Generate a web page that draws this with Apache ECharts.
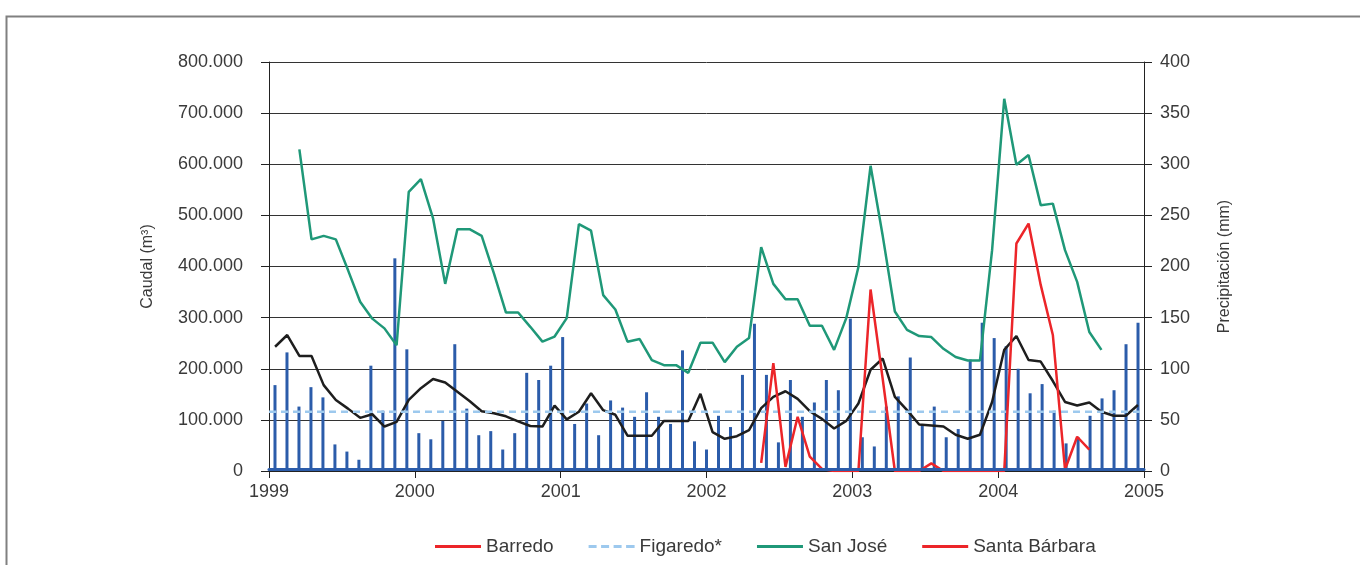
<!DOCTYPE html>
<html>
<head>
<meta charset="utf-8">
<script src="https://cdn.jsdelivr.net/npm/echarts@6/dist/echarts.min.js"></script>
<style>
  html, body { margin: 0; padding: 0; background: #fff; }
  #chart { width: 1360px; height: 565px; }
</style>
</head>
<body>
<div id="chart"></div>
<script>
// ejes
const years = [1999, 2005];
const caudalTicks = [0, 800, 100];   // miles de m3
const precipTicks = [0, 400, 50];    // mm

// precipitación mensual (mm), ene 1999 - ene 2005
const precip = [
  84, 116, 63, 82, 72, 26, 19, 11, 103, 59, 208, 119,
  37, 31, 49, 124, 61, 35, 39, 21, 37, 96, 89, 103,
  131, 46, 66, 35, 69, 62, 53, 77, 53, 46, 118, 29,
  21, 54, 43, 94, 144, 94, 28, 89, 53, 67, 89, 79,
  149, 33, 24, 63, 73, 111, 45, 63, 33, 41, 109, 145,
  130, 122, 100, 76, 85, 59, 27, 33, 54, 71, 79, 124,
  145
];

// caudales mensuales (miles de m3), ene 1999 - dic 2004
const barredo = [
  243, 266, 225, 225, 168, 139, 122, 104, 111, 87, 96, 139,
  162, 180, 173, 155, 137, 117, 113, 107, 97, 88, 87, 128,
  101, 116, 152, 119, 110, 69, 69, 69, 98, 98, 98, 151,
  76, 63, 68, 80, 123, 145, 156, 141, 117, 102, 83, 98,
  132, 198, 220, 145, 119, 91, 89, 87, 71, 63, 71, 135,
  237, 264, 217, 214, 176, 135, 128, 134, 116, 108, 108, 129
];
const sanJose = [
  null, null, 629, 453, 460, 453, 393, 331, 298, 279, 246, 546,
  571, 494, 366, 473, 473, 460, 387, 310, 310, 282, 253, 263,
  299, 483, 470, 344, 316, 253, 258, 217, 207, 207, 192, 251,
  251, 213, 243, 260, 438, 366, 336, 336, 284, 284, 237, 299,
  399, 597, 460, 312, 276, 264, 262, 239, 223, 216, 216, 432,
  728, 599, 618, 520, 523, 432, 370, 272, 237
];
const santaBarbara = [
  null, null, null, null, null, null, null, null, null, null, null, null,
  null, null, null, null, null, null, null, null, null, null, null, null,
  null, null, null, null, null, null, null, null, null, null, null, null,
  null, null, null, null, 16, 211, 8, 106, 28, 4, 0, 0,
  0, 355, 180, 0, 0, 0, 15, 0, 0, 0, 0, 0,
  0, 445, 484, 364, 266, 3, 67, 42
];
const figaredo = [116, 116];

const colRed = "#ec2529";
const colGreen = "#1f9878";
const colBlue = "#2b5caa";
const colDash = "#9dc9ee";

// iconos de la leyenda: línea continua y discontinua
const iconSolid = "path://M0,0H46V3H0Z";
const iconDash = "path://M0,0h8v3h-8z M12.5,0h8v3h-8z M25,0h8v3h-8z M37.5,0h8.5v3h-8.5z";

// meses como categorías para las barras
let months = [];
for (let i = 0; i < precip.length; i++) {
  months.push(years[0] + Math.floor(i / 12) + "-" + ((i % 12) + 1));
}
// posición (año decimal) de cada mes, a mitad de mes
function toPairs(arr) {
  return arr.map((v, i) => [years[0] + (i + 0.5) / 12, v]);
}

const font = "Liberation Sans, Arial, sans-serif";
const txt = "#3a3a3a";

let chart = echarts.init(document.getElementById("chart"));
let option = {
  backgroundColor: "#fff",
  animation: false,
  textStyle: { fontFamily: font },
  graphic: [
    {
      type: "rect",
      left: 4,
      top: 14,
      shape: { width: 1400, height: 600 },
      style: { fill: "none", stroke: "#808080", lineWidth: 2 },
      silent: true
    }
  ],
  grid: { left: 269, right: 216, top: 62, bottom: 94 },
  legend: {
    left: 435,
    top: 537,
    padding: 0,
    itemWidth: 46,
    itemHeight: 3,
    itemGap: 35,
    textStyle: { fontSize: 19, color: txt, fontFamily: font },
    data: [
      { name: "Barredo", icon: iconSolid, itemStyle: { color: colRed } },
      { name: "Figaredo*", icon: iconDash },
      { name: "San José", icon: iconSolid },
      { name: "Santa Bárbara", icon: iconSolid }
    ]
  },
  xAxis: [
    {
      type: "category",
      data: months,
      boundaryGap: true,
      offset: -2,
      z: 10,
      axisLine: { show: true, lineStyle: { color: colBlue, width: 3 } },
      axisTick: { show: false },
      axisLabel: { show: false },
      splitLine: { show: false }
    },
    {
      type: "value",
      min: years[0],
      max: years[1],
      interval: 1,
      position: "bottom",
      axisLine: { show: true, lineStyle: { color: "#222", width: 1 } },
      axisTick: { show: true, length: 7, lineStyle: { color: "#222" } },
      axisLabel: {
        fontSize: 18,
        color: txt,
        margin: 12,
        formatter: (v) => String(v)
      },
      splitLine: { show: false }
    }
  ],
  yAxis: [
    {
      type: "value",
      min: caudalTicks[0],
      max: caudalTicks[1],
      interval: caudalTicks[2],
      position: "left",
      name: "Caudal (m³)",
      nameLocation: "middle",
      nameGap: 113,
      nameRotate: 90,
      nameTextStyle: { fontSize: 16, color: txt },
      axisLine: { show: true, lineStyle: { color: "#222" } },
      axisTick: { show: true, length: 8, lineStyle: { color: "#222" } },
      axisLabel: {
        fontSize: 18,
        color: txt,
        margin: 26,
        formatter: (v) => (v === 0 ? "0" : v + ".000")
      },
      splitLine: { show: true, lineStyle: { color: "#333", width: 1 } }
    },
    {
      type: "value",
      min: precipTicks[0],
      max: precipTicks[1],
      interval: precipTicks[2],
      position: "right",
      name: "Precipitación (mm)",
      nameLocation: "middle",
      nameGap: 73,
      nameRotate: 90,
      nameTextStyle: { fontSize: 16, color: txt },
      axisLine: { show: true, lineStyle: { color: "#222" } },
      axisTick: { show: true, length: 8, lineStyle: { color: "#222" } },
      axisLabel: { fontSize: 18, color: txt, margin: 16 },
      splitLine: { show: false }
    }
  ],
  series: [
    {
      name: "Precipitación",
      type: "bar",
      xAxisIndex: 0,
      yAxisIndex: 1,
      barWidth: 3,
      itemStyle: { color: colBlue },
      data: precip,
      z: 2
    },
    {
      name: "Barredo",
      type: "line",
      xAxisIndex: 1,
      yAxisIndex: 0,
      symbol: "none",
      lineStyle: { color: "#1e1e1e", width: 2.5 },
      itemStyle: { color: "#1e1e1e" },
      data: toPairs(barredo),
      z: 3
    },
    {
      name: "Figaredo*",
      type: "line",
      xAxisIndex: 1,
      yAxisIndex: 0,
      symbol: "none",
      lineStyle: { color: colDash, width: 2.5, type: [7, 5] },
      itemStyle: { color: colDash },
      data: figaredo.map((v, i) => [years[i], v]),
      z: 3
    },
    {
      name: "San José",
      type: "line",
      xAxisIndex: 1,
      yAxisIndex: 0,
      symbol: "none",
      lineStyle: { color: colGreen, width: 2.5 },
      itemStyle: { color: colGreen },
      data: toPairs(sanJose),
      z: 3
    },
    {
      name: "Santa Bárbara",
      type: "line",
      xAxisIndex: 1,
      yAxisIndex: 0,
      symbol: "none",
      lineStyle: { color: colRed, width: 2.5 },
      itemStyle: { color: colRed },
      data: toPairs(santaBarbara),
      z: 3
    }
  ]
};
chart.setOption(option);
</script>
</body>
</html>
